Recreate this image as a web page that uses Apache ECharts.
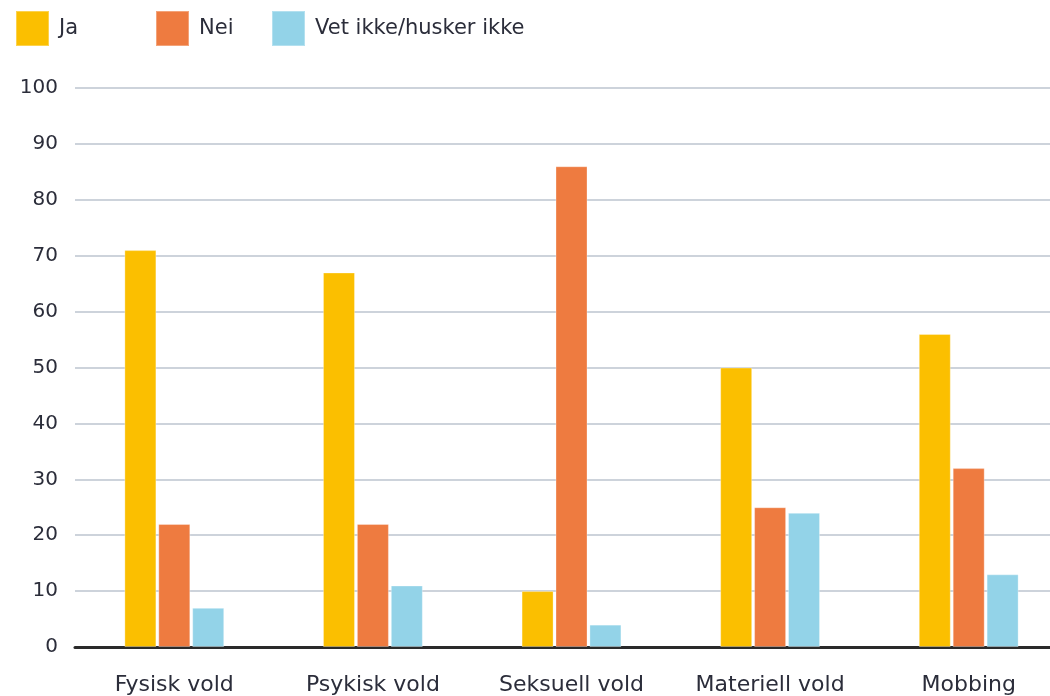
<!DOCTYPE html>
<html>
<head>
<meta charset="utf-8">
<script src="https://cdn.jsdelivr.net/npm/echarts@6/dist/echarts.min.js"></script>
<style>html,body{margin:0;padding:0;background:#fff}#c{width:1050px;height:696px}</style>
</head>
<body>
<div id="c"></div>
<script>
const categories = ['Fysisk vold', 'Psykisk vold', 'Seksuell vold', 'Materiell vold', 'Mobbing'];
const seriesNames = ['Ja', 'Nei', 'Vet ikke/husker ikke'];
const ja = [71, 67, 10, 50, 56];
const nei = [22, 22, 86, 25, 32];
const vetIkke = [7, 11, 4, 24, 13];
const yTicks = [0, 10, 20, 30, 40, 50, 60, 70, 80, 90, 100];

const colors = ['#FBBF00', '#EE7B40', '#93D3E8'];
const font = 'DejaVu Sans';
const textColor = '#2b2d3a';
const chart = echarts.init(document.getElementById('c'));
const legendBase = {
  top: 10, itemWidth: 33, itemHeight: 35, icon: 'rect', itemGap: 10,
  textStyle: { fontFamily: font, fontSize: 21, color: textColor, padding: [0, 0, 0, 5] },
  selectedMode: false, padding: 0
};
chart.setOption({
  animation: false,
  color: colors,
  legend: [
    Object.assign({}, legendBase, { data: [seriesNames[0]], left: 15 }),
    Object.assign({}, legendBase, { data: [seriesNames[1]], left: 155 }),
    Object.assign({}, legendBase, { data: [seriesNames[2]], left: 271 })
  ],
  grid: { left: 75, width: 993, top: 88, bottom: 49, containLabel: false, outerBoundsMode: 'none' },
  xAxis: {
    type: 'category', data: categories,
    axisLine: { lineStyle: { color: '#2a2a2a', width: 3 } },
    axisTick: { show: false },
    axisLabel: { fontFamily: font, fontSize: 22, color: textColor, margin: 27 }
  },
  yAxis: {
    type: 'value', min: yTicks[0], max: yTicks[yTicks.length - 1], interval: 10,
    axisLine: { show: false }, axisTick: { show: false },
    axisLabel: { fontFamily: font, fontSize: 20, color: textColor, margin: 17 },
    splitLine: { lineStyle: { color: '#bcc5cf', width: 1.5 } }
  },
  series: [
    { name: seriesNames[0], type: 'bar', data: ja, barWidth: 32, barGap: '6%', itemStyle: { borderColor: 'rgba(255,255,255,0.3)', borderWidth: 1 } },
    { name: seriesNames[1], type: 'bar', data: nei, barWidth: 32, barGap: '6%', itemStyle: { borderColor: 'rgba(255,255,255,0.3)', borderWidth: 1 } },
    { name: seriesNames[2], type: 'bar', data: vetIkke, barWidth: 32, barGap: '6%', itemStyle: { borderColor: 'rgba(255,255,255,0.3)', borderWidth: 1 } }
  ]
});
</script>
</body>
</html>
